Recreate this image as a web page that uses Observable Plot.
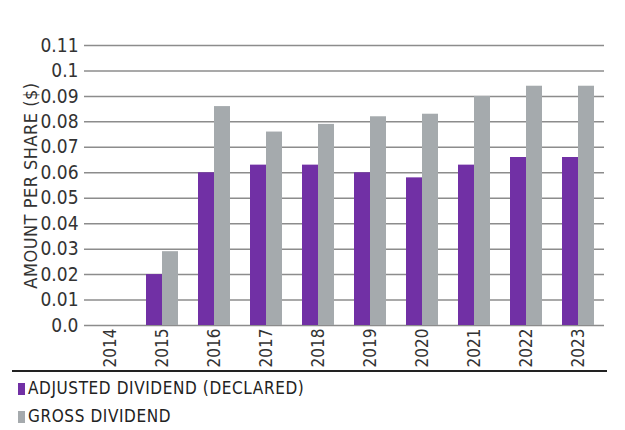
<!DOCTYPE html>
<html><head><meta charset="utf-8">
<script src="https://cdn.jsdelivr.net/npm/d3@7"></script>
<script src="https://cdn.jsdelivr.net/npm/@observablehq/plot@0.6"></script>
<style>
body{margin:0;background:#fff;font-family:"DejaVu Sans Condensed","Roboto",sans-serif;color:#333;}
#wrap{position:relative;width:625px;height:430px;overflow:hidden;}
#rule{position:absolute;left:12px;width:595px;top:370px;border-top:2px solid #222;}
#legend{position:absolute;left:18px;top:374px;font-size:17px;letter-spacing:0.6px;line-height:28px;color:#222;}
.sw{display:inline-block;width:7px;height:12px;margin-right:3px;vertical-align:-1px;}
</style></head><body>
<div id="wrap"><div id="chart"></div><div id="rule"></div>
<div id="legend"></div></div>
<script>
const years = ["2014","2015","2016","2017","2018","2019","2020","2021","2022","2023"];
const seriesNames = ["ADJUSTED DIVIDEND (DECLARED)","GROSS DIVIDEND"];
const adjusted = [0, 0.020, 0.060, 0.063, 0.063, 0.060, 0.058, 0.063, 0.066, 0.066];
const gross    = [0, 0.029, 0.086, 0.076, 0.079, 0.082, 0.083, 0.090, 0.094, 0.094];
const colors = ["#7130a5","#a5aaad"];
const yTicks = [0,0.01,0.02,0.03,0.04,0.05,0.06,0.07,0.08,0.09,0.1,0.11];

const data = [];
years.forEach((y,i)=>{
  data.push({year:y, series:seriesNames[0], value:adjusted[i]});
  data.push({year:y, series:seriesNames[1], value:gross[i]});
});

const chart = Plot.plot({
  width:625, height:370,
  marginLeft:80, marginRight:18, marginTop:45, marginBottom:45,
  style:{fontFamily:'"DejaVu Sans Condensed",Roboto,sans-serif', fontSize:"19px", color:"#333", background:"#fff"},
  fx:{domain:years, paddingInner:0, paddingOuter:0, label:null, tickRotate:-90, tickSize:0, tickPadding:3},
  x:{domain:seriesNames, axis:null, paddingInner:0, paddingOuter:0.6},
  y:{domain:[0,0.11], ticks:yTicks, tickFormat:d=> d===0 ? "0.0" : String(+d.toFixed(2)), tickSize:0, tickPadding:6,
     label:"AMOUNT PER SHARE ($)", labelAnchor:"center", labelArrow:false, labelOffset:60},
  color:{domain:seriesNames, range:colors},
  marks:[
    Plot.gridY(yTicks, {stroke:"#8c8c8c", strokeOpacity:1, strokeWidth:1.5}),
    Plot.barY(data, {fx:"year", x:"series", y:"value", fill:"series"})
  ]
});
document.getElementById("chart").appendChild(chart);
chart.querySelectorAll('[aria-label="fx-axis tick label"]').forEach(n=>n.setAttribute("font-size","17px"));
chart.querySelectorAll('[aria-label="y-axis label"]').forEach(n=>{n.setAttribute("font-size","18px");n.setAttribute("letter-spacing","0.5px");});

const leg = document.getElementById("legend");
seriesNames.forEach((s,i)=>{
  const d = document.createElement("div");
  d.innerHTML = `<span class="sw" style="background:${colors[i]}"></span>${s}`;
  leg.appendChild(d);
});
</script></body></html>
